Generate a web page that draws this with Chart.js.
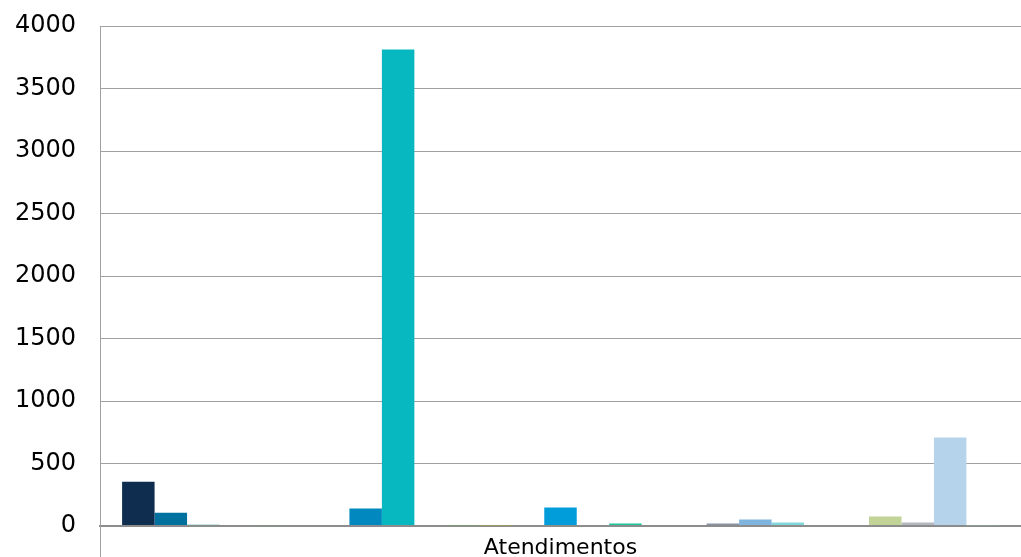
<!DOCTYPE html>
<html>
<head>
<meta charset="utf-8">
<script src="https://cdn.jsdelivr.net/npm/chart.js@4/dist/chart.umd.min.js"></script>
<style>
html,body{margin:0;padding:0;background:#fff;}
#wrap{width:1021px;height:557px;position:relative;}
</style>
</head>
<body>
<div id="wrap"><canvas id="c"></canvas></div>
<script>
const categories = ["Atendimentos"];
const seriesNames = ["Série 1","Série 2","Série 3","Série 4","Série 5","Série 6","Série 7","Série 8","Série 9","Série 10","Série 11","Série 12","Série 13","Série 14","Série 15","Série 16","Série 17","Série 18","Série 19","Série 20","Série 21","Série 22","Série 23","Série 24","Série 25","Série 26","Série 27"];
const seriesValues = [355, 107, 10, 0, 4, 0, 9, 140, 3812, 0, 5, 5, 0, 148, 0, 20, 0, 0, 20, 53, 28, 0, 0, 76, 28, 708, 2];
const yTicks = [0, 500, 1000, 1500, 2000, 2500, 3000, 3500, 4000];

const palette = ["#0E2D4F","#00719F","#1F9496","#4A7FA0","#7E9A86","#6C8CB0","#263E66","#0088BF","#07B8C0","#5BA3C8","#7AA864","#A5A540","#3E6E8E","#009DDA","#39A5A9","#1BC59A","#8EA8C0","#6FB7B0","#8A92A6","#7FB4DE","#80D8DA","#A3C9B0","#9FB3CC","#C1D396","#B4B8BF","#B5D3EA","#8AA09A"];

const datasets = seriesNames.map((n, i) => ({
  label: n,
  data: [seriesValues[i]],
  backgroundColor: palette[i],
  borderWidth: 0,
  categoryPercentage: 0.952,
  barPercentage: 1.0
}));

new Chart(document.getElementById('c'), {
  type: 'bar',
  data: { labels: categories, datasets: datasets },
  options: {
    responsive: true,
    maintainAspectRatio: false,
    animation: false,
    layout: { padding: { top: 26, right: 0, left: 0, bottom: 0 } },
    plugins: { legend: { display: false }, tooltip: { enabled: false } },
    scales: {
      x: {
        grid: { display: true, drawOnChartArea: false, drawTicks: true, tickLength: 31, color: '#A0A0A0', lineWidth: 1 },
        border: { display: true, color: '#8C8C8C', width: 2 },
        ticks: { color: '#000', font: { family: 'DejaVu Sans', size: 22 }, padding: -22 },
        afterFit: s => { s.height = 31; }
      },
      y: {
        min: 0, max: 4000,
        afterBuildTicks: s => { s.ticks = yTicks.map(v => ({ value: v })); },
        grid: { color: '#A0A0A0', lineWidth: c => (c.tick && c.tick.value === 0 ? 2 : 1), drawTicks: true, tickLength: 24, tickColor: 'rgba(0,0,0,0)' },
        border: { display: true, color: '#A0A0A0', width: 1 },
        ticks: { color: '#000', font: { family: 'DejaVu Sans', size: 24 }, padding: 0, callback: v => String(v) },
        afterFit: s => { s.width = 100; }
      }
    }
  }
});
</script>
</body>
</html>
